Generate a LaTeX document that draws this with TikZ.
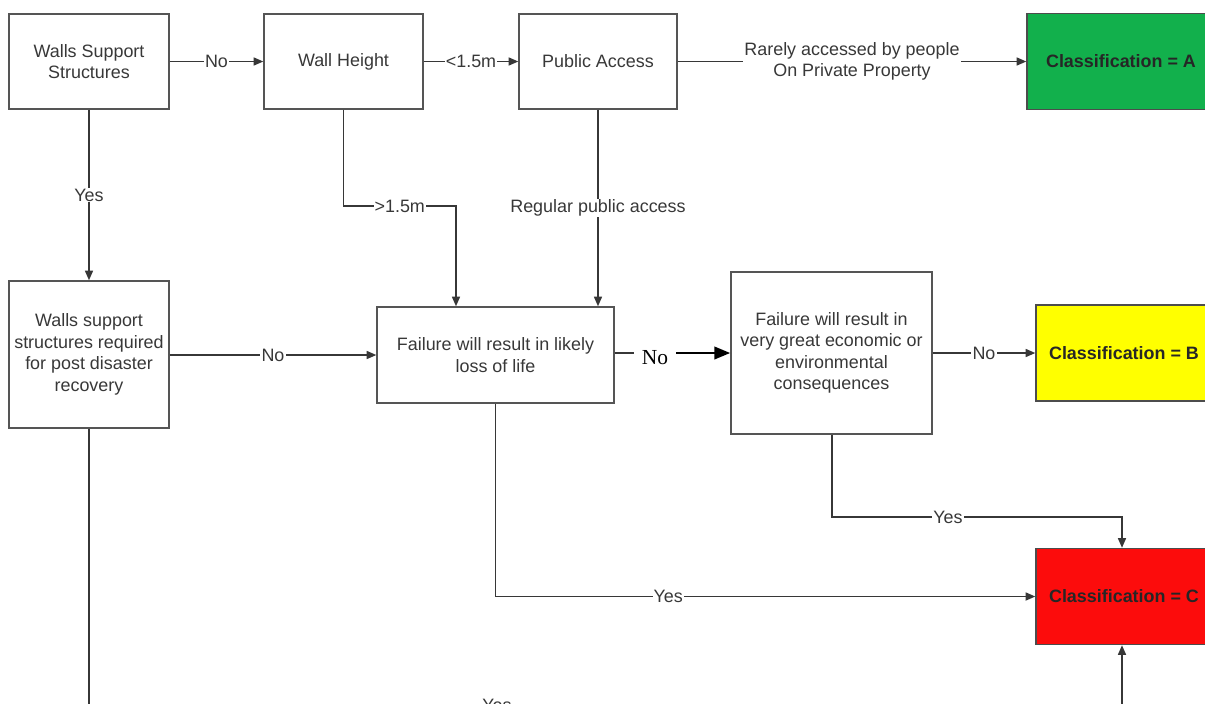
\documentclass[tikz,border=0pt]{standalone}
\usepackage{fontspec}
\setmainfont{Liberation Sans}
\newfontfamily\serifno{Liberation Serif}
\usepackage{xcolor}
\usepackage{tikz}
\usetikzlibrary{arrows.meta}

\definecolor{clsA}{RGB}{18,176,76}
\definecolor{clsB}{RGB}{255,255,0}
\definecolor{clsC}{RGB}{252,12,12}
\definecolor{edgegray}{RGB}{55,55,55}

\begin{document}
\begin{tikzpicture}[x=0.02cm, y=-0.02cm,
    box/.style={draw=edgegray!85, line width=0.85pt, fill=white, align=center, inner sep=2pt,
      text=black!78, font=\fontsize{10.2}{12.2}\selectfont},
    classbox/.style={draw=black!70, line width=0.85pt, text=black!85,
      font=\bfseries\fontsize{10.2}{12.2}\selectfont},
    conn/.style={draw=edgegray, line width=0.8pt, -{Triangle[length=5.5pt,width=4.6pt]}},
    lbl/.style={fill=white, inner sep=0.6pt, align=center, text=black!78,
      font=\fontsize{10.2}{12.2}\selectfont}]
          \useasboundingbox (0,0) rectangle (1205,704);
          \clip (0,0) rectangle (1205,704);
          \fill[white] (0,0) rectangle (1205,704);

          \node[box, minimum width=3.2cm, minimum height=1.9cm] (support) at (89,61.5) {Walls Support\\Structures};
          \node[box, minimum width=3.18cm, minimum height=1.9cm] (height) at (343.5,61.5) {Wall Height};
          \node[box, minimum width=3.16cm, minimum height=1.9cm] (access) at (598,61.5) {Public Access};
          \node[box, minimum width=3.2cm, minimum height=2.94cm] (recovery) at (89,354.5) {Walls support\\structures required\\for post disaster\\recovery};
          \node[box, minimum width=4.74cm, minimum height=1.92cm] (life) at (495.5,355) {Failure will result in likely\\loss of life};
          \node[box, minimum width=4.02cm, minimum height=3.24cm] (econ) at (831.5,353) {Failure will result in\\very great economic or\\environmental\\consequences};

          \foreach \c\x\y\w\col in {A/1121/61.5/3.76/clsA, B/1124/353/3.52/clsB, C/1124/596.5/3.52/clsC}{%
            \node[classbox, fill=\col, minimum width=\w cm, minimum height=1.92cm] (class\c) at (\x,\y) {Classification = \c};
          }

          \coordinate (hbend) at (456,206);
          \coordinate (ybend) at (1122,517);
          \coordinate (noL) at (634,353);
          \coordinate (noR) at (676,353);
          \coordinate (bottomL) at (89,705);
          \coordinate (bottomR) at (1122,705);
          \node[font=\serifno\fontsize{12.2}{14}\selectfont, inner sep=0pt] (noSerif) at (655,358) {No};

          \draw[conn] (support) -- node[lbl]{No} (height);
          \draw[conn] (height) -- node[lbl]{<1.5m} (access);
          \draw[conn] (access) -- node[lbl]{Rarely accessed by people\\On Private Property} (classA);
          \draw[conn] (support) -- node[lbl]{Yes} (recovery);
          \draw[conn] (height.south) |- node[lbl, pos=0.75]{>1.5m} (hbend) -- (hbend |- life.north);
          \draw[conn] (access) -- node[lbl]{Regular public access} (access |- life.north);
          \draw[conn] (recovery.east |- life.west) -- node[lbl]{No} (life.west);
          \draw[edgegray, line width=0.8pt] (life.east |- noL) -- (noL);
          \draw[black, line width=1.5pt, -{Triangle[length=9pt,width=7pt]}] (noR) -- (noR -| econ.west);
          \draw[conn] (econ.east |- classB) -- node[lbl]{No} (classB);
          \draw[conn] (econ.south -| 832,0) |- node[lbl, pos=0.7]{Yes} (ybend) -- (ybend |- classC.north);
          \draw[conn] (life.south) |- node[lbl, pos=0.66]{Yes} (classC.west);
          \draw[conn] (recovery.south) -- (bottomL) -- node[lbl, pos=0.395]{Yes} (bottomR) -- (bottomR |- classC.south);
        \end{tikzpicture}
\end{document}
